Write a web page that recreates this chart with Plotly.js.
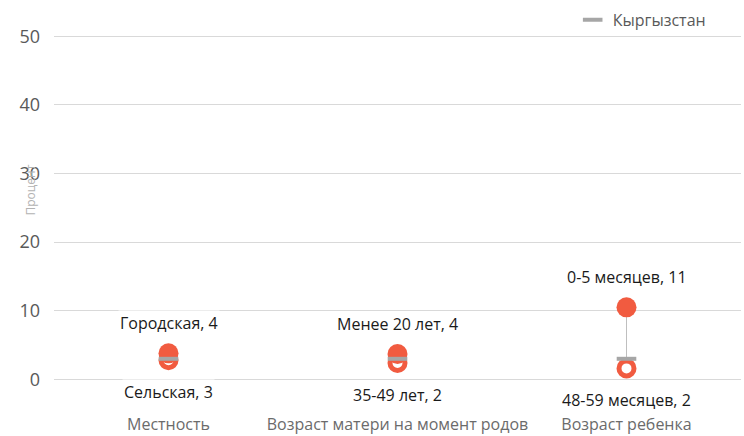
<!DOCTYPE html>
<html>
<head>
<meta charset="utf-8">
<script src="https://cdn.plot.ly/plotly-3.0.1.min.js"></script>
<style>html,body{margin:0;padding:0;background:#fff;}#chart{width:744px;height:436px;}</style>
</head>
<body>
<div id="chart"></div>
<script>
// Data
const categories = ["Местность", "Возраст матери на момент родов", "Возраст ребенка"];
const highNames = ["Городская", "Менее 20 лет", "0-5 месяцев"];
const highValues = [3.8, 3.7, 10.5];
const lowNames = ["Сельская", "35-49 лет", "48-59 месяцев"];
const lowValues = [2.8, 2.4, 1.6];
const nationalName = "Кыргызстан";
const nationalValues = [3.0, 3.0, 3.0];
const yTicks = [0, 10, 20, 30, 40, 50];

const ORANGE = "#F15B40";
const GREY = "#A6A6A6";
const FONT = "Open Sans, Liberation Sans, Arial, sans-serif";

// connector lines
const cx = [], cy = [];
categories.forEach((c, i) => { cx.push(c, c, null); cy.push(lowValues[i], highValues[i], null); });

const traces = [
  {x: cx, y: cy, mode: "lines", line: {color: "#BFBFBF", width: 1}, showlegend: false, hoverinfo: "skip", cliponaxis: false},
  {x: categories, y: lowValues, mode: "markers", showlegend: false, cliponaxis: false,
   marker: {symbol: "circle", size: 15, color: "#FFFFFF", line: {color: ORANGE, width: 5}}},
  {x: categories, y: highValues, mode: "markers", showlegend: false, cliponaxis: false,
   marker: {symbol: "circle", size: 20, color: ORANGE, line: {width: 0}}},
  {x: categories, y: nationalValues, mode: "markers", name: nationalName, showlegend: true, cliponaxis: false,
   marker: {symbol: "line-ew", size: 14, color: GREY, line: {color: GREY, width: 4}}}
];

const annotations = [];
categories.forEach((c, i) => {
  annotations.push({x: c, y: highValues[i], xref: "x", yref: "y", text: highNames[i] + ", " + Math.round(highValues[i]),
    showarrow: false, yshift: 30, bgcolor: "#FFFFFF", font: {family: FONT, size: 16, color: "#1A1A1A"}});
  annotations.push({x: c, y: lowValues[i], xref: "x", yref: "y", text: lowNames[i] + ", " + Math.round(lowValues[i]),
    showarrow: false, yshift: -32, bgcolor: "#FFFFFF", font: {family: FONT, size: 16, color: "#1A1A1A"}});
});
annotations.push({xref: "paper", yref: "paper", x: -0.0495, y: 0.59, text: "Процент", textangle: -90,
  showarrow: false, font: {family: FONT, size: 12, color: "#B3B3B3"}});

const layout = {
  width: 744, height: 436,
  margin: {l: 54, r: 3, t: 35, b: 23},
  paper_bgcolor: "#FFFFFF", plot_bgcolor: "#FFFFFF",
  font: {family: FONT, color: "#595959"},
  xaxis: {type: "category", range: [-0.5, 2.5], showgrid: false, zeroline: false, showline: false, ticks: "",
    tickfont: {family: FONT, size: 16, color: "#6B6B6B"}, fixedrange: true},
  yaxis: {range: [-4.9, 50.2], tickvals: yTicks, showgrid: true, gridcolor: "#D9D9D9", gridwidth: 1, zeroline: false,
    showline: false, ticks: "", ticklabelstandoff: 13, tickfont: {family: FONT, size: 18, color: "#595959"}, fixedrange: true},
  legend: {x: 0.755, y: 1.085, xanchor: "left", yanchor: "top", orientation: "h", itemwidth: 30,
    font: {family: FONT, size: 16, color: "#595959"}, bgcolor: "rgba(0,0,0,0)"},
  annotations: annotations,
  showlegend: true
};

Plotly.newPlot("chart", traces, layout, {displayModeBar: false, staticPlot: true});
</script>
</body>
</html>
